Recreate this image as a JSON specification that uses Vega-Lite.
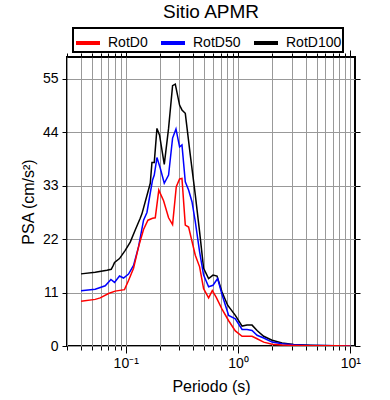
{
  "$schema": "https://vega.github.io/schema/vega-lite/v6.json",
  "width": 288,
  "height": 289,
  "autosize": "none",
  "padding": {"left": 67, "top": 57, "right": 35, "bottom": 54},
  "background": "white",
  "config": {
    "font": "Liberation Sans",
    "view": {"stroke": "black", "strokeWidth": 2},
    "legend": {"strokeWidth": 2}
  },
  "title": {
    "text": "Sitio APMR",
    "fontSize": 19,
    "fontWeight": "normal",
    "font": "Liberation Sans",
    "color": "black",
    "anchor": "middle",
    "baseline": "alphabetic",
    "offset": -10
  },
  "data": {
    "values": [
      {"serie": "RotD100", "periodo": 0.04, "psa": 14.85},
      {"serie": "RotD100", "periodo": 0.0535, "psa": 15.2},
      {"serie": "RotD100", "periodo": 0.068, "psa": 15.6},
      {"serie": "RotD100", "periodo": 0.0743, "psa": 15.8},
      {"serie": "RotD100", "periodo": 0.0775, "psa": 16.6},
      {"serie": "RotD100", "periodo": 0.0795, "psa": 17.2},
      {"serie": "RotD100", "periodo": 0.088, "psa": 18.0},
      {"serie": "RotD100", "periodo": 0.099, "psa": 19.7},
      {"serie": "RotD100", "periodo": 0.1097, "psa": 21.4},
      {"serie": "RotD100", "periodo": 0.1215, "psa": 23.9},
      {"serie": "RotD100", "periodo": 0.1346, "psa": 26.3},
      {"serie": "RotD100", "periodo": 0.1394, "psa": 27.2},
      {"serie": "RotD100", "periodo": 0.1545, "psa": 31.0},
      {"serie": "RotD100", "periodo": 0.1654, "psa": 33.5},
      {"serie": "RotD100", "periodo": 0.1712, "psa": 37.8},
      {"serie": "RotD100", "periodo": 0.1795, "psa": 37.8},
      {"serie": "RotD100", "periodo": 0.1897, "psa": 44.8},
      {"serie": "RotD100", "periodo": 0.2001, "psa": 43.4},
      {"serie": "RotD100", "periodo": 0.2204, "psa": 37.4},
      {"serie": "RotD100", "periodo": 0.2407, "psa": 44.8},
      {"serie": "RotD100", "periodo": 0.2613, "psa": 53.6},
      {"serie": "RotD100", "periodo": 0.2762, "psa": 53.9},
      {"serie": "RotD100", "periodo": 0.3016, "psa": 49.6},
      {"serie": "RotD100", "periodo": 0.3168, "psa": 48.6},
      {"serie": "RotD100", "periodo": 0.3391, "psa": 47.9},
      {"serie": "RotD100", "periodo": 0.3758, "psa": 39.3},
      {"serie": "RotD100", "periodo": 0.4163, "psa": 31.1},
      {"serie": "RotD100", "periodo": 0.4548, "psa": 23.5},
      {"serie": "RotD100", "periodo": 0.4936, "psa": 16.0},
      {"serie": "RotD100", "periodo": 0.547, "psa": 13.9},
      {"serie": "RotD100", "periodo": 0.5986, "psa": 14.6},
      {"serie": "RotD100", "periodo": 0.65, "psa": 14.4},
      {"serie": "RotD100", "periodo": 0.72, "psa": 11.1},
      {"serie": "RotD100", "periodo": 0.808, "psa": 8.4},
      {"serie": "RotD100", "periodo": 0.946, "psa": 6.3},
      {"serie": "RotD100", "periodo": 1.086, "psa": 4.1},
      {"serie": "RotD100", "periodo": 1.203, "psa": 4.3},
      {"serie": "RotD100", "periodo": 1.333, "psa": 4.3},
      {"serie": "RotD100", "periodo": 1.477, "psa": 3.2},
      {"serie": "RotD100", "periodo": 1.691, "psa": 2.0},
      {"serie": "RotD100", "periodo": 2.009, "psa": 1.2},
      {"serie": "RotD100", "periodo": 2.467, "psa": 0.6},
      {"serie": "RotD100", "periodo": 3.13, "psa": 0.3},
      {"serie": "RotD100", "periodo": 4.41, "psa": 0.15},
      {"serie": "RotD100", "periodo": 5.41, "psa": 0.1},
      {"serie": "RotD100", "periodo": 7.36, "psa": 0.06},
      {"serie": "RotD100", "periodo": 10, "psa": 0.04},

      {"serie": "RotD50", "periodo": 0.04, "psa": 11.4},
      {"serie": "RotD50", "periodo": 0.0535, "psa": 11.7},
      {"serie": "RotD50", "periodo": 0.0657, "psa": 12.4},
      {"serie": "RotD50", "periodo": 0.0738, "psa": 13.7},
      {"serie": "RotD50", "periodo": 0.0795, "psa": 13.1},
      {"serie": "RotD50", "periodo": 0.088, "psa": 14.4},
      {"serie": "RotD50", "periodo": 0.0956, "psa": 14.0},
      {"serie": "RotD50", "periodo": 0.1059, "psa": 14.8},
      {"serie": "RotD50", "periodo": 0.1174, "psa": 16.6},
      {"serie": "RotD50", "periodo": 0.13, "psa": 20.4},
      {"serie": "RotD50", "periodo": 0.1441, "psa": 25.9},
      {"serie": "RotD50", "periodo": 0.1545, "psa": 27.5},
      {"serie": "RotD50", "periodo": 0.1654, "psa": 31.5},
      {"serie": "RotD50", "periodo": 0.1734, "psa": 34.2},
      {"serie": "RotD50", "periodo": 0.1795, "psa": 35.2},
      {"serie": "RotD50", "periodo": 0.1897, "psa": 38.8},
      {"serie": "RotD50", "periodo": 0.203, "psa": 36.6},
      {"serie": "RotD50", "periodo": 0.2204, "psa": 33.5},
      {"serie": "RotD50", "periodo": 0.2407, "psa": 35.2},
      {"serie": "RotD50", "periodo": 0.2613, "psa": 42.8},
      {"serie": "RotD50", "periodo": 0.2802, "psa": 44.7},
      {"serie": "RotD50", "periodo": 0.3016, "psa": 41.0},
      {"serie": "RotD50", "periodo": 0.3168, "psa": 41.4},
      {"serie": "RotD50", "periodo": 0.3391, "psa": 33.8},
      {"serie": "RotD50", "periodo": 0.3629, "psa": 32.1},
      {"serie": "RotD50", "periodo": 0.389, "psa": 29.7},
      {"serie": "RotD50", "periodo": 0.4163, "psa": 25.6},
      {"serie": "RotD50", "periodo": 0.4548, "psa": 19.4},
      {"serie": "RotD50", "periodo": 0.4936, "psa": 14.6},
      {"serie": "RotD50", "periodo": 0.547, "psa": 12.2},
      {"serie": "RotD50", "periodo": 0.5986, "psa": 12.5},
      {"serie": "RotD50", "periodo": 0.658, "psa": 13.9},
      {"serie": "RotD50", "periodo": 0.72, "psa": 10.6},
      {"serie": "RotD50", "periodo": 0.825, "psa": 6.3},
      {"serie": "RotD50", "periodo": 0.946, "psa": 5.6},
      {"serie": "RotD50", "periodo": 1.086, "psa": 3.4},
      {"serie": "RotD50", "periodo": 1.203, "psa": 3.4},
      {"serie": "RotD50", "periodo": 1.333, "psa": 3.2},
      {"serie": "RotD50", "periodo": 1.477, "psa": 2.2},
      {"serie": "RotD50", "periodo": 1.691, "psa": 1.65},
      {"serie": "RotD50", "periodo": 2.009, "psa": 0.8},
      {"serie": "RotD50", "periodo": 2.467, "psa": 0.45},
      {"serie": "RotD50", "periodo": 3.13, "psa": 0.25},
      {"serie": "RotD50", "periodo": 4.41, "psa": 0.12},
      {"serie": "RotD50", "periodo": 5.41, "psa": 0.08},
      {"serie": "RotD50", "periodo": 7.36, "psa": 0.05},
      {"serie": "RotD50", "periodo": 10, "psa": 0.03},

      {"serie": "RotD0", "periodo": 0.04, "psa": 9.2},
      {"serie": "RotD0", "periodo": 0.0535, "psa": 9.6},
      {"serie": "RotD0", "periodo": 0.0593, "psa": 9.9},
      {"serie": "RotD0", "periodo": 0.0703, "psa": 10.8},
      {"serie": "RotD0", "periodo": 0.0805, "psa": 11.3},
      {"serie": "RotD0", "periodo": 0.0975, "psa": 11.6},
      {"serie": "RotD0", "periodo": 0.1059, "psa": 13.5},
      {"serie": "RotD0", "periodo": 0.1174, "psa": 16.0},
      {"serie": "RotD0", "periodo": 0.13, "psa": 20.4},
      {"serie": "RotD0", "periodo": 0.1441, "psa": 24.0},
      {"serie": "RotD0", "periodo": 0.1577, "psa": 25.9},
      {"serie": "RotD0", "periodo": 0.1734, "psa": 26.3},
      {"serie": "RotD0", "periodo": 0.1832, "psa": 26.4},
      {"serie": "RotD0", "periodo": 0.197, "psa": 32.1},
      {"serie": "RotD0", "periodo": 0.2173, "psa": 29.9},
      {"serie": "RotD0", "periodo": 0.2407, "psa": 26.4},
      {"serie": "RotD0", "periodo": 0.2613, "psa": 25.0},
      {"serie": "RotD0", "periodo": 0.2819, "psa": 32.8},
      {"serie": "RotD0", "periodo": 0.3016, "psa": 34.4},
      {"serie": "RotD0", "periodo": 0.3168, "psa": 34.5},
      {"serie": "RotD0", "periodo": 0.3391, "psa": 24.9},
      {"serie": "RotD0", "periodo": 0.3629, "psa": 24.5},
      {"serie": "RotD0", "periodo": 0.4163, "psa": 18.7},
      {"serie": "RotD0", "periodo": 0.4548, "psa": 16.3},
      {"serie": "RotD0", "periodo": 0.4936, "psa": 11.8},
      {"serie": "RotD0", "periodo": 0.547, "psa": 9.9},
      {"serie": "RotD0", "periodo": 0.59, "psa": 11.4},
      {"serie": "RotD0", "periodo": 0.64, "psa": 10.0},
      {"serie": "RotD0", "periodo": 0.72, "psa": 7.6},
      {"serie": "RotD0", "periodo": 0.825, "psa": 5.2},
      {"serie": "RotD0", "periodo": 0.946, "psa": 3.1},
      {"serie": "RotD0", "periodo": 1.086, "psa": 2.0},
      {"serie": "RotD0", "periodo": 1.333, "psa": 2.0},
      {"serie": "RotD0", "periodo": 1.477, "psa": 1.5},
      {"serie": "RotD0", "periodo": 1.691, "psa": 0.8},
      {"serie": "RotD0", "periodo": 2.009, "psa": 0.35},
      {"serie": "RotD0", "periodo": 2.467, "psa": 0.2},
      {"serie": "RotD0", "periodo": 3.13, "psa": 0.12},
      {"serie": "RotD0", "periodo": 4.41, "psa": 0.07},
      {"serie": "RotD0", "periodo": 7.36, "psa": 0.03},
      {"serie": "RotD0", "periodo": 10, "psa": 0.02}
    ]
  },
  "layer": [
    {
      "mark": {"type": "line", "strokeWidth": 1.5, "clip": true},
      "encoding": {
        "x": {
          "field": "periodo",
          "type": "quantitative",
          "scale": {"type": "log", "domain": [0.03, 11], "nice": false},
          "axis": {
            "orient": "bottom",
            "values": [0.03, 0.04, 0.05, 0.06, 0.07, 0.08, 0.09, 0.1, 0.2, 0.3, 0.4, 0.5, 0.6, 0.7, 0.8, 0.9, 1, 2, 3, 4, 5, 6, 7, 8, 9, 10],
            "labelExpr": "datum.value == 0.1 ? '10⁻¹' : datum.value == 1 ? '10⁰' : datum.value == 10 ? '10¹' : ''",
            "labelFontSize": 14,
            "labelColor": "black",
            "labelPadding": 3,
            "labelFlush": false,
            "labelOverlap": false,
            "grid": true,
            "gridColor": "#999999",
            "gridWidth": 1,
            "gridOpacity": 1,
            "domain": false,
            "tickColor": "black",
            "tickWidth": 1,
            "tickSize": {"condition": {"test": "datum.value == 0.1 || datum.value == 1 || datum.value == 10", "value": 7}, "value": 4},
            "title": "Periodo (s)",
            "titleFontSize": 16,
            "titleFontWeight": "normal",
            "titleColor": "black",
            "titlePadding": 8
          }
        },
        "y": {
          "field": "psa",
          "type": "quantitative",
          "scale": {"domain": [0, 59.5], "nice": false},
          "axis": {
            "orient": "left",
            "values": [0, 11, 22, 33, 44, 55],
            "labelFontSize": 14,
            "labelColor": "black",
            "labelPadding": 4,
            "grid": true,
            "gridColor": "#999999",
            "gridWidth": 1,
            "gridOpacity": 1,
            "domain": false,
            "tickColor": "black",
            "tickSize": 5,
            "title": "PSA (cm/s²)",
            "titleFontSize": 16,
            "titleFontWeight": "normal",
            "titleColor": "black",
            "titlePadding": 6
          }
        },
        "color": {
          "field": "serie",
          "type": "nominal",
          "scale": {"domain": ["RotD0", "RotD50", "RotD100"], "range": ["#ff0000", "#0000ff", "#000000"]},
          "legend": {
            "orient": "none",
            "legendX": 6,
            "legendY": -29,
            "direction": "horizontal",
            "columns": 3,
            "gridAlign": "each",
            "columnPadding": 5,
            "title": null,
            "symbolType": "stroke",
            "symbolSize": 576,
            "symbolStrokeWidth": 4,
            "labelFontSize": 14,
            "labelColor": "black",
            "labelOffset": 6,
            "padding": 1,
            "strokeColor": "black",
            "fillColor": "white"
          }
        }
      }
    },
    {
      "mark": {"type": "line", "opacity": 0},
      "encoding": {
        "x": {
          "field": "periodo",
          "type": "quantitative",
          "axis": {
            "orient": "top",
            "values": [0.03, 0.04, 0.05, 0.06, 0.07, 0.08, 0.09, 0.1, 0.2, 0.3, 0.4, 0.5, 0.6, 0.7, 0.8, 0.9, 1, 2, 3, 4, 5, 6, 7, 8, 9, 10],
            "labels": false,
            "grid": false,
            "domain": false,
            "tickColor": "black",
            "tickSize": {"condition": {"test": "datum.value == 0.1 || datum.value == 1 || datum.value == 10", "value": 7}, "value": 4},
            "title": null
          }
        },
        "y": {
          "field": "psa",
          "type": "quantitative",
          "axis": {
            "orient": "right",
            "values": [0, 11, 22, 33, 44, 55],
            "labels": false,
            "grid": false,
            "domain": false,
            "tickColor": "black",
            "tickSize": 5,
            "title": null
          }
        }
      }
    }
  ],
  "resolve": {"axis": {"x": "independent", "y": "independent"}}
}
